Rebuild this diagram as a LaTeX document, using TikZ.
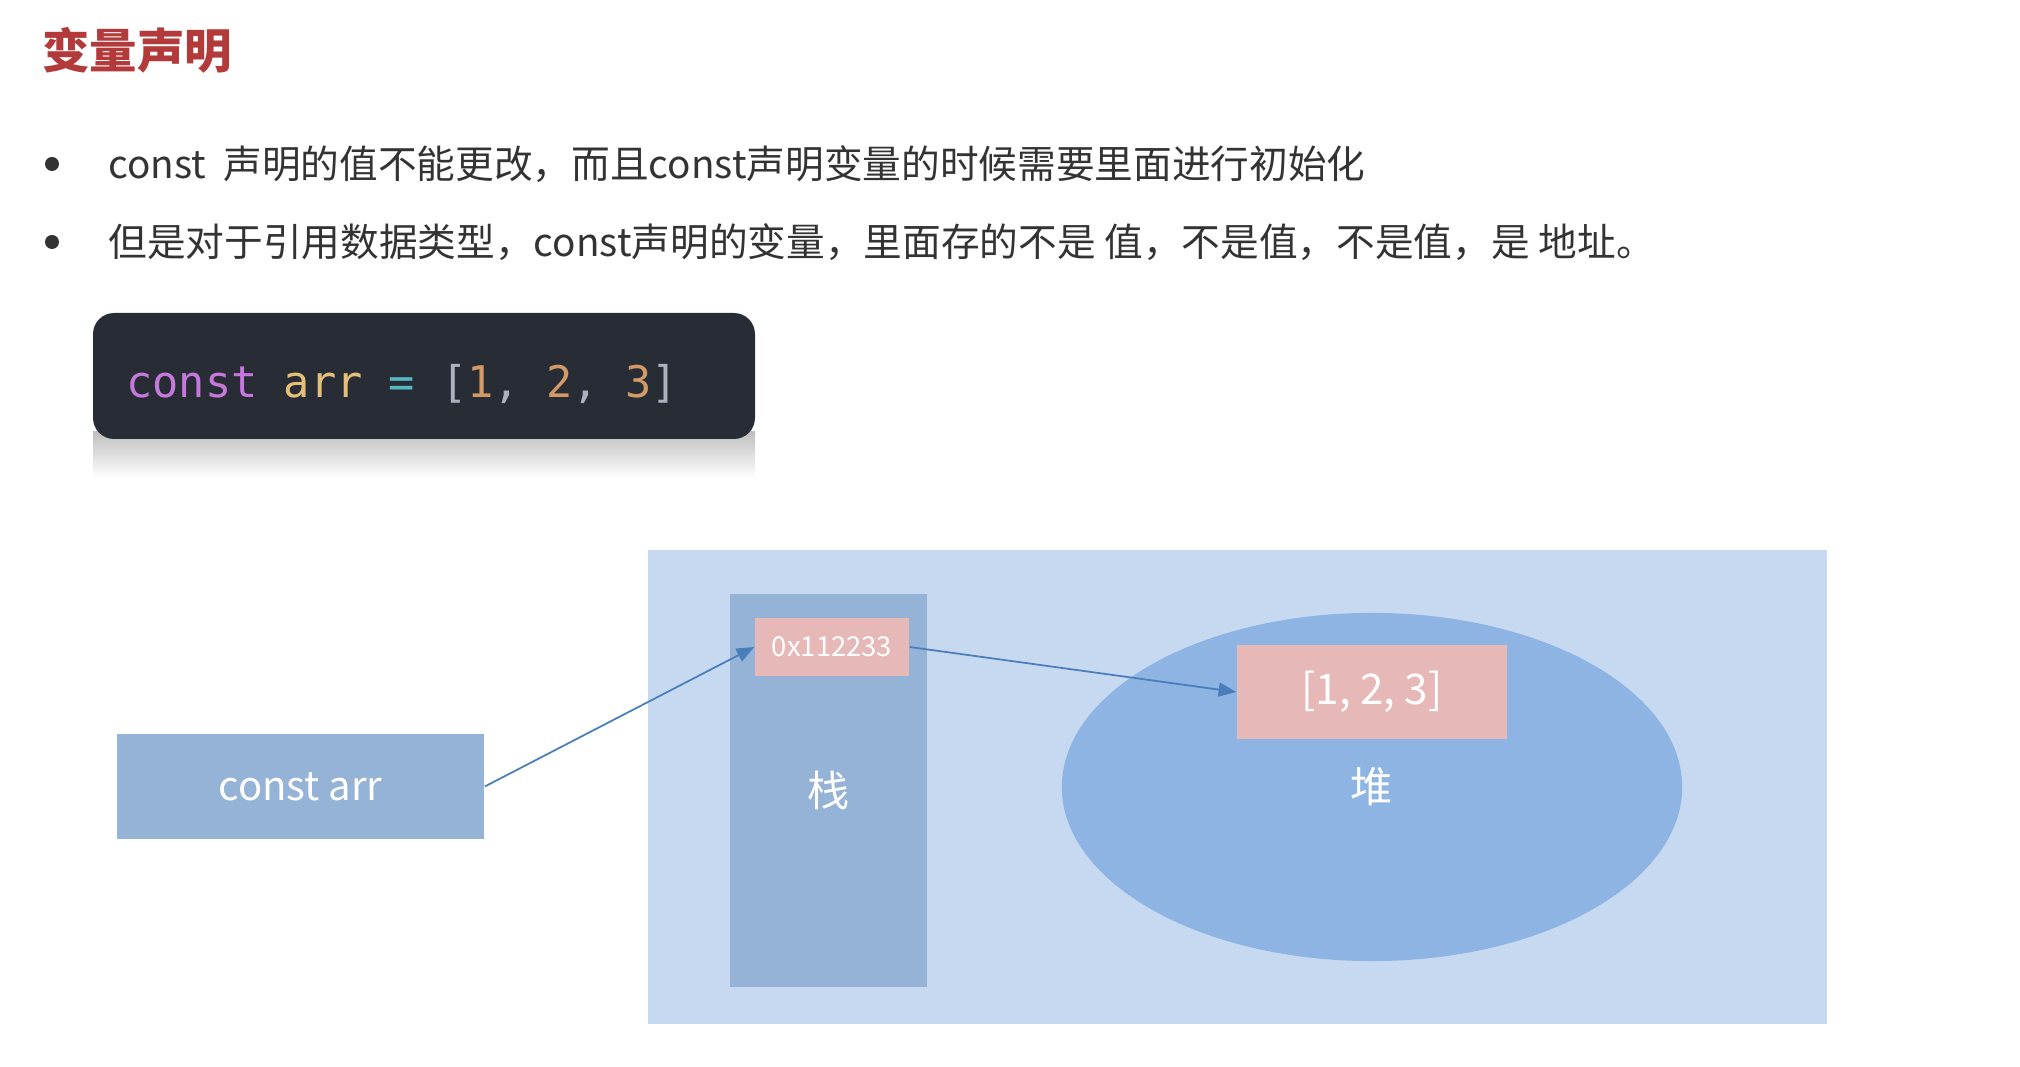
\documentclass[tikz,border=0pt]{standalone}
\usepackage{fontspec}
\setmainfont{Noto Sans CJK SC}
\newfontfamily\codefont{DejaVu Sans Mono}
\usetikzlibrary{shapes.geometric,arrows.meta}

\definecolor{titlered}{HTML}{B23A3A}
\definecolor{bodygray}{HTML}{333333}
\definecolor{codebg}{HTML}{282C34}
\definecolor{kwpurple}{HTML}{C678DD}
\definecolor{varyellow}{HTML}{E5C07B}
\definecolor{opcyan}{HTML}{56B6C2}
\definecolor{numorange}{HTML}{D19A66}
\definecolor{punctgray}{HTML}{ABB2BF}
\definecolor{memlight}{HTML}{C6D9F0}
\definecolor{stackblue}{HTML}{95B3D7}
\definecolor{heapblue}{HTML}{8DB4E2}
\definecolor{cellpink}{HTML}{E6B9B8}
\definecolor{ptrblue}{HTML}{4A7EBB}

\tikzset{
  bullettext/.style={anchor=west, text=bodygray, font=\fontsize{11}{13}\selectfont},
  bulletdot/.style={fill=bodygray, draw=none},
  blockbox/.style={fill=stackblue, draw=none, text=white, inner sep=0pt},
  cellbox/.style={fill=cellpink, draw=none, text=white, inner sep=0pt},
  ptr/.style={draw=ptrblue, line width=0.5pt, -{Triangle[length=5pt,width=4pt]}}
}

\begin{document}
\begin{tikzpicture}[x=0.01cm, y=-0.01cm]
  \useasboundingbox (0,0) rectangle (2020,1067);
  % title
  \node[anchor=west, text=titlered, font=\fontsize{13.5}{16}\selectfont\bfseries] (title) at (30,50) {变量声明};
  % bullet points
  \fill[bulletdot] (52,164) circle (7);
  \node[bullettext] (lineone) at (96,164) {const\ \ 声明的值不能更改，而且const声明变量的时候需要里面进行初始化};
  \fill[bulletdot] (52,242) circle (7);
  \node[bullettext] (linetwo) at (96,242) {但是对于引用数据类型，const声明的变量，里面存的不是\ 值，不是值，不是值，是\ 地址。};
  % code block with shadow
  \shade[top color=black!25, bottom color=white] (93,432) rectangle (755,478);
  \fill[codebg, rounded corners=6] (93,313) rectangle (755,439);
  \node[anchor=west, font=\codefont\fontsize{12.4}{14}\selectfont] (code) at (114,384)
    {\textcolor{kwpurple}{const} \textcolor{varyellow}{arr} \textcolor{opcyan}{=} \textcolor{punctgray}{[}\textcolor{numorange}{1}\textcolor{punctgray}{,} \textcolor{numorange}{2}\textcolor{punctgray}{,} \textcolor{numorange}{3}\textcolor{punctgray}{]}};
  % memory area
  \fill[memlight] (648,550) rectangle (1827,1024);
  % stack
  \node[blockbox, minimum width=1.97cm, minimum height=3.93cm, font=\fontsize{12}{14}\selectfont] (stack) at (828.5,790.5) {栈};
  % heap
  \node[ellipse, fill=heapblue, draw=none, text=white, minimum width=6.2cm, minimum height=3.48cm, font=\fontsize{12}{14}\selectfont] (heap) at (1372,787) {堆};
  % cells
  \node[cellbox, minimum width=1.54cm, minimum height=0.58cm, font=\fontsize{7.8}{10}\selectfont] (addr) at (832,647) {0x112233};
  \node[cellbox, minimum width=2.70cm, minimum height=0.93cm, font=\fontsize{12}{14}\selectfont] (val) at (1372,692) {[1, 2, 3]};
  % variable
  \node[blockbox, minimum width=3.67cm, minimum height=1.05cm, font=\fontsize{11.4}{14}\selectfont] (arr) at (300.5,786.5) {const arr};
  % pointers
  \draw[ptr] (arr.east) -- (addr.west);
  \draw[ptr] (addr.east) -- (val.west);
\end{tikzpicture}
\end{document}
